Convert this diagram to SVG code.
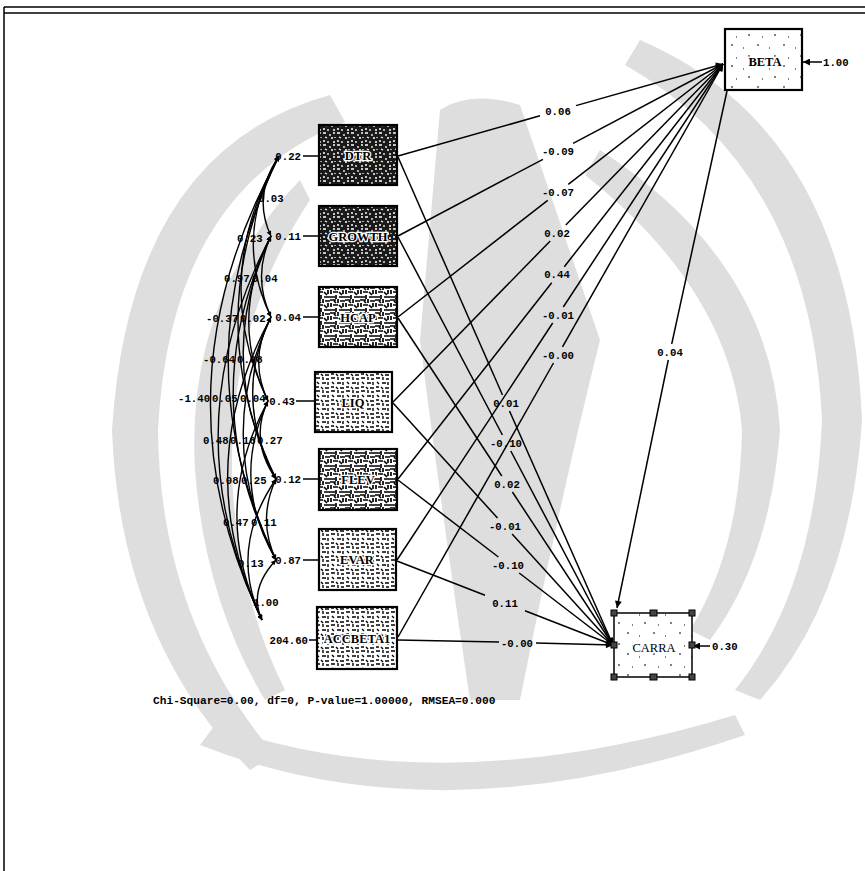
<svg xmlns="http://www.w3.org/2000/svg" width="865" height="871" viewBox="0 0 865 871">
<defs>
<style>
.wm{fill:#dedede;stroke:none}
.ln{stroke:#000;stroke-width:1.5;fill:none}
.arc{stroke:#000;stroke-width:1.4;fill:none}
.lb{font-family:"Liberation Mono",monospace;font-weight:bold;font-size:10.7px;fill:#000}
.lbm{font-family:"Liberation Mono",monospace;font-weight:bold;font-size:10.7px;fill:#000;text-anchor:middle}
.vl{font-family:"Liberation Mono",monospace;font-weight:bold;font-size:10.7px;fill:#000;text-anchor:end}
.bx{stroke:#000;stroke-width:2.2}
.bt{font-family:"Liberation Serif",serif;font-weight:bold;font-size:12.5px;fill:#000;text-anchor:middle;stroke:#fff;stroke-width:2.5;paint-order:stroke}
.hd{fill:#444;stroke:#000;stroke-width:1}
</style>
<marker id="ah" viewBox="0 0 10 10" refX="10" refY="5" markerWidth="9" markerHeight="7" markerUnits="userSpaceOnUse" orient="auto"><path d="M0 0L10 5L0 10z"/></marker>
<marker id="as" viewBox="0 0 10 10" refX="10" refY="5" markerWidth="7" markerHeight="5" markerUnits="userSpaceOnUse" orient="auto-start-reverse"><path d="M0 0L10 5L0 10z"/></marker>
<pattern id="pD" width="14" height="12" patternUnits="userSpaceOnUse">
<rect width="14" height="12" fill="#1a1a1a"/>
<path d="M1 1h3M8 2v2M11 1h2M3 5l2 1M9 6h2M1 9h2M6 9v2M11 10h2M13 5v1" stroke="#fff" stroke-width="1.3" fill="none"/>
</pattern>
<pattern id="pM" width="15" height="13" patternUnits="userSpaceOnUse">
<rect width="15" height="13" fill="#fff"/>
<path d="M0 1h6M8 0v4M10 2h5M1 4v4M3 6h5M9 6l3 3M13 4v4M0 11h5M6 9v4M9 11h6M4 2l2 2" stroke="#000" stroke-width="1.7" fill="none"/>
</pattern>
<pattern id="pL" width="15" height="13" patternUnits="userSpaceOnUse">
<rect width="15" height="13" fill="#fff"/>
<path d="M1 1h4M8 0v3M11 2h3M2 5l2 2M7 6h4M13 5v3M1 10h3M6 10l2 2M10 11h4" stroke="#000" stroke-width="1.4" fill="none"/>
</pattern>
<pattern id="pS" width="26" height="21" patternUnits="userSpaceOnUse">
<rect width="26" height="21" fill="#fff"/>
<path d="M3 3h2M15 6h1M20 14h2M8 16h1" stroke="#000" stroke-width="1" fill="none"/>
</pattern>
</defs>
<rect width="865" height="871" fill="#fff"/>
<g id="watermark">
<path class="wm" d="M330 95Q130 150 112 430Q120 640 250 770L275 755Q160 620 158 430Q170 190 345 122Z"/>
<path class="wm" d="M300 180Q185 300 195 470Q205 600 265 700L285 690Q235 590 232 470Q230 320 310 200Z"/>
<path class="wm" d="M200 745Q440 840 745 735L735 715Q440 805 215 725Z"/>
<path class="wm" d="M640 40Q850 130 862 420Q850 600 760 700L735 690Q815 590 822 420Q810 170 625 65Z"/>
<path class="wm" d="M600 150Q770 260 780 430Q770 560 710 640L690 630Q740 550 742 430Q730 290 585 175Z"/>
<path class="wm" d="M440 110Q470 90 520 105L600 340Q560 500 520 700L470 700Q440 500 420 340Z"/>
</g>
<g id="frame" stroke="#000" stroke-width="1.5" fill="none">
<path d="M4 7H865M4 13H865M4 7V871"/>
</g>
<g id="connectors">
<path class="ln" d="M398 156L540 115.8"/><path class="ln" d="M576 105.6L723 64" marker-end="url(#ah)"/>
<path class="ln" d="M398 236L542.9 159.3"/><path class="ln" d="M573.1 143.3L723 64" marker-end="url(#ah)"/>
<path class="ln" d="M398 317L547.7 200.4"/><path class="ln" d="M568.3 184.4L723 64" marker-end="url(#ah)"/>
<path class="ln" d="M393 402L550.2 241"/><path class="ln" d="M565.8 225L723 64" marker-end="url(#ah)"/>
<path class="ln" d="M398 479L551.7 282.7"/><path class="ln" d="M564.3 266.7L723 64" marker-end="url(#ah)"/>
<path class="ln" d="M397 560L552.7 323"/><path class="ln" d="M563.3 307L723 64" marker-end="url(#ah)"/>
<path class="ln" d="M398 637L553.5 363"/><path class="ln" d="M562.5 346.9L723 64" marker-end="url(#ah)"/>
<path class="ln" d="M398 157L502.5 395"/><path class="ln" d="M509.5 411L613 645" marker-end="url(#ah)"/>
<path class="ln" d="M398 237L502.4 435"/><path class="ln" d="M510.8 451L613 645" marker-end="url(#ah)"/>
<path class="ln" d="M398 318L501.8 476"/><path class="ln" d="M512.4 492L613 645" marker-end="url(#ah)"/>
<path class="ln" d="M393 403L497.5 518"/><path class="ln" d="M512.1 534L613 645" marker-end="url(#ah)"/>
<path class="ln" d="M398 480L498.4 557"/><path class="ln" d="M519.2 573L613 645" marker-end="url(#ah)"/>
<path class="ln" d="M397 561L485 595.2"/><path class="ln" d="M525 610.8L613 645" marker-end="url(#ah)"/>
<path class="ln" d="M398 640L499 642"/><path class="ln" d="M536 643L613 645" marker-end="url(#ah)"/>
<path class="ln" d="M727 91L671.7 344"/><path class="ln" d="M668.3 360L617 608" marker-end="url(#ah)"/>
<path class="ln" d="M822 62H803" marker-end="url(#ah)"/>
<path class="ln" d="M710 646H693" marker-end="url(#ah)"/>
<path class="ln" d="M303 156H319M303 236H319M303 317H319M296 401H315M303 479H319M303 560H319M309 640H317"/>
<g id="arcs">
<path class="arc" d="M279 156Q252 196 271 236" marker-start="url(#as)" marker-end="url(#as)"/>
<path class="arc" d="M279 156Q232 236.5 271 317" marker-start="url(#as)" marker-end="url(#as)"/>
<path class="arc" d="M279 156Q209 278.5 268 401" marker-start="url(#as)" marker-end="url(#as)"/>
<path class="arc" d="M279 156Q198.5 317.5 276 479" marker-start="url(#as)" marker-end="url(#as)"/>
<path class="arc" d="M279 156Q179 358 276 560" marker-start="url(#as)" marker-end="url(#as)"/>
<path class="arc" d="M279 156Q151 388 262 620" marker-start="url(#as)" marker-end="url(#as)"/>
<path class="arc" d="M271 236Q252 276.5 271 317" marker-start="url(#as)" marker-end="url(#as)"/>
<path class="arc" d="M271 236Q228 318.5 268 401" marker-start="url(#as)" marker-end="url(#as)"/>
<path class="arc" d="M271 236Q213 357.5 276 479" marker-start="url(#as)" marker-end="url(#as)"/>
<path class="arc" d="M271 236Q193 398 276 560" marker-start="url(#as)" marker-end="url(#as)"/>
<path class="arc" d="M271 236Q170 428 262 620" marker-start="url(#as)" marker-end="url(#as)"/>
<path class="arc" d="M271 317Q248 359 268 401" marker-start="url(#as)" marker-end="url(#as)"/>
<path class="arc" d="M271 317Q232 398 276 479" marker-start="url(#as)" marker-end="url(#as)"/>
<path class="arc" d="M271 317Q213 438.5 276 560" marker-start="url(#as)" marker-end="url(#as)"/>
<path class="arc" d="M271 317Q189 468.5 262 620" marker-start="url(#as)" marker-end="url(#as)"/>
<path class="arc" d="M268 401Q249 440 276 479" marker-start="url(#as)" marker-end="url(#as)"/>
<path class="arc" d="M268 401Q230 480.5 276 560" marker-start="url(#as)" marker-end="url(#as)"/>
<path class="arc" d="M268 401Q209 510.5 262 620" marker-start="url(#as)" marker-end="url(#as)"/>
<path class="arc" d="M276 479Q257 519.5 276 560" marker-start="url(#as)" marker-end="url(#as)"/>
<path class="arc" d="M276 479Q228 549.5 262 620" marker-start="url(#as)" marker-end="url(#as)"/>
<path class="arc" d="M276 560Q248 590 262 620" marker-start="url(#as)" marker-end="url(#as)"/>
</g>
</g>
<g id="labels">
<text class="lbm" x="558" y="114.5">0.06</text>
<text class="lbm" x="558" y="155">-0.09</text>
<text class="lbm" x="558" y="196">-0.07</text>
<text class="lbm" x="557" y="237">0.02</text>
<text class="lbm" x="557" y="278">0.44</text>
<text class="lbm" x="558" y="319">-0.01</text>
<text class="lbm" x="558" y="359">-0.00</text>
<text class="lbm" x="506" y="407">0.01</text>
<text class="lbm" x="506" y="447">-0.10</text>
<text class="lbm" x="507" y="488">0.02</text>
<text class="lbm" x="505" y="530">-0.01</text>
<text class="lbm" x="508" y="569">-0.10</text>
<text class="lbm" x="505" y="607">0.11</text>
<text class="lbm" x="517" y="647">-0.00</text>
<text class="lbm" x="670" y="356">0.04</text>
<text class="lb" x="823" y="66">1.00</text>
<text class="lb" x="712" y="650">0.30</text>
<text class="vl" x="301" y="160">0.22</text>
<text class="vl" x="301" y="240">0.11</text>
<text class="vl" x="301" y="321">0.04</text>
<text class="vl" x="295" y="405">0.43</text>
<text class="vl" x="301" y="483">0.12</text>
<text class="vl" x="301" y="564">0.87</text>
<text class="vl" x="308" y="644">204.60</text>
<text class="lb" x="258" y="202">0.03</text>
<text class="lb" x="237" y="242">0.23</text>
<text class="lb" x="224" y="282">0.97</text><text class="lb" x="252" y="282">0.04</text>
<text class="lb" x="206" y="322">-0.37</text><text class="lb" x="240" y="322">0.02</text>
<text class="lb" x="203" y="363">-0.64</text><text class="lb" x="237" y="363">0.08</text>
<text class="lb" x="178" y="402">-1.40</text><text class="lb" x="212" y="402">0.05</text><text class="lb" x="240" y="402">0.04</text>
<text class="lb" x="203" y="444">0.48</text><text class="lb" x="230" y="444">0.16</text><text class="lb" x="257" y="444">0.27</text>
<text class="lb" x="213" y="484">0.08</text><text class="lb" x="241" y="484">0.25</text>
<text class="lb" x="223" y="526">0.47</text><text class="lb" x="251" y="526">0.11</text>
<text class="lb" x="238" y="567">0.13</text>
<text class="lb" x="253" y="606">1.00</text>
<text x="153" y="704" style="font-family:'Liberation Mono',monospace;font-weight:bold;font-size:11.2px">Chi-Square=0.00, df=0, P-value=1.00000, RMSEA=0.000</text>
</g>
<g id="DTR"><rect class="bx" x="319" y="125" width="78" height="60" fill="url(#pD)"/><text class="bt" x="358" y="160">DTR</text></g>
<g id="GROWTH"><rect class="bx" x="319" y="206" width="78" height="60" fill="url(#pD)"/><text class="bt" x="358" y="241">GROWTH</text></g>
<g id="HCAP"><rect class="bx" x="319" y="287" width="78" height="60" fill="url(#pM)"/><text class="bt" x="358" y="322">HCAP</text></g>
<g id="LIQ"><rect class="bx" x="315" y="372" width="77" height="60" fill="url(#pL)"/><text class="bt" x="353" y="407">LIQ</text></g>
<g id="FLEV"><rect class="bx" x="319" y="449" width="78" height="61" fill="url(#pM)"/><text class="bt" x="358" y="484">FLEV</text></g>
<g id="EVAR"><rect class="bx" x="319" y="529" width="77" height="61" fill="url(#pL)"/><text class="bt" x="357" y="564">EVAR</text></g>
<g id="ACCBETA1"><rect class="bx" x="317" y="607" width="80" height="62" fill="url(#pL)"/><text class="bt" x="357" y="643">ACCBETA1</text></g>
<g id="BETA"><rect class="bx" x="725" y="29" width="77" height="61" fill="url(#pS)"/><text class="bt" x="765" y="66">BETA</text></g>
<g id="CARRA"><rect x="614" y="613" width="78" height="64" fill="url(#pS)" stroke="#000" stroke-width="1.5"/><text class="bt" x="654" y="652" style="font-weight:normal">CARRA</text>
<rect class="hd" x="611" y="610" width="6" height="6"/><rect class="hd" x="650" y="610" width="7" height="6"/><rect class="hd" x="689" y="610" width="6" height="6"/>
<rect class="hd" x="611" y="642" width="6" height="6"/><rect class="hd" x="689" y="642" width="6" height="6"/>
<rect class="hd" x="611" y="674" width="6" height="6"/><rect class="hd" x="650" y="674" width="7" height="6"/><rect class="hd" x="689" y="674" width="6" height="6"/>
</g>
</svg>
